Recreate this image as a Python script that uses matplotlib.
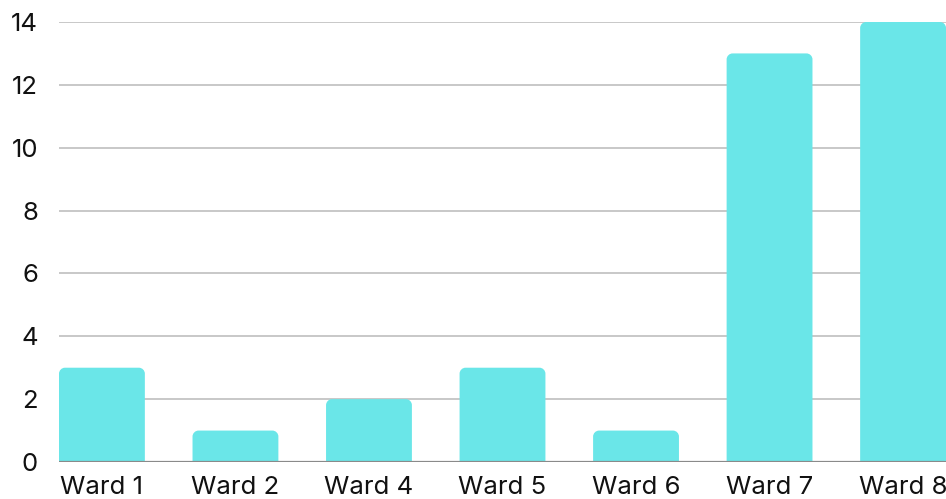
import matplotlib
matplotlib.use("Agg")
import matplotlib.pyplot as plt
from matplotlib.path import Path
from matplotlib.patches import PathPatch
import numpy as np

plt.rcParams['font.family'] = ['Inter', 'DejaVu Sans']

wards = ["Ward 1", "Ward 2", "Ward 4", "Ward 5", "Ward 6", "Ward 7", "Ward 8"]
counts = [3, 1, 2, 3, 1, 13, 14]

bar_color = "#6ae6e8"
bar_w = 0.643

fig = plt.figure(figsize=(9.46, 4.99), dpi=100)
ax = fig.add_axes([59 / 946, 37 / 499, 887 / 946, 440 / 499])

x = np.arange(len(wards))
bars = ax.bar(x, counts, width=bar_w, color=bar_color, zorder=3)
ax.set_xlim(-bar_w / 2, len(wards) - 1 + bar_w / 2)
ax.set_ylim(0, 14)

# swap the plain bars for ones with rounded top corners
fig.canvas.draw()
px_x = ax.transData.transform((1, 0))[0] - ax.transData.transform((0, 0))[0]
px_y = ax.transData.transform((0, 1))[1] - ax.transData.transform((0, 0))[1]
r_px = 6
rx, ry = r_px / px_x, r_px / px_y
k = 0.5523
for b in bars:
    x0, w, h = b.get_x(), b.get_width(), b.get_height()
    x1 = x0 + w
    verts = [
        (x0, 0), (x0, h - ry),
        (x0, h - ry + k * ry), (x0 + rx - k * rx, h), (x0 + rx, h),
        (x1 - rx, h),
        (x1 - rx + k * rx, h), (x1, h - ry + k * ry), (x1, h - ry),
        (x1, 0), (x0, 0),
    ]
    codes = [Path.MOVETO, Path.LINETO,
             Path.CURVE4, Path.CURVE4, Path.CURVE4,
             Path.LINETO,
             Path.CURVE4, Path.CURVE4, Path.CURVE4,
             Path.LINETO, Path.CLOSEPOLY]
    b.set_visible(False)
    ax.add_patch(PathPatch(Path(verts, codes), facecolor=bar_color,
                           edgecolor="none", zorder=3))

ax.set_yticks(np.arange(0, 15, 2))
ax.set_xticks(x)
ax.set_xticklabels(wards)
ax.yaxis.grid(True, color="#c8c8c8", linewidth=1.4, zorder=0)
ax.axhline(0, color="#8a8a8a", linewidth=1.6, zorder=4)

for s in ax.spines.values():
    s.set_visible(False)
ax.tick_params(axis="both", length=0, labelsize=18.5, colors="#111111")
ax.tick_params(axis="y", pad=15)
ax.tick_params(axis="x", pad=10)

fig.savefig("out.png", dpi=100)
